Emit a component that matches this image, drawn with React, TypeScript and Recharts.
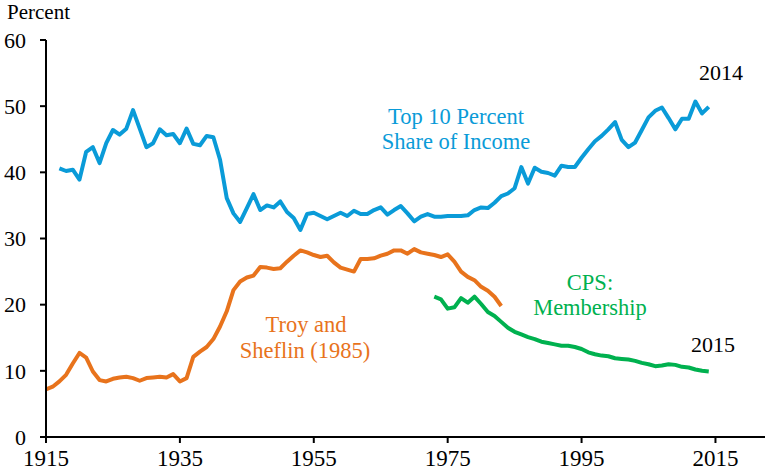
import React from 'react';
import { LineChart, Line, XAxis, YAxis, Customized } from 'recharts';

const FONT = "'Liberation Serif', 'Times New Roman', serif";
const BLUE = '#0a9bd8';
const ORANGE = '#e8731c';
const GREEN = '#00b14f';

// Top 10 percent share of income, 1917-2014
const top10Start = 1917;
const top10Share = [
  40.6, 40.2, 40.4, 38.9, 43.1, 43.8, 41.4, 44.4, 46.4, 45.7,
  46.6, 49.4, 46.6, 43.8, 44.4, 46.5, 45.6, 45.8, 44.4, 46.6,
  44.3, 44.1, 45.5, 45.3, 41.9, 36.1, 33.8, 32.5, 34.6, 36.7,
  34.3, 35.0, 34.7, 35.6, 34.0, 33.1, 31.3, 33.7, 33.9, 33.4,
  32.9, 33.4, 33.9, 33.4, 34.2, 33.7, 33.7, 34.3, 34.7, 33.6,
  34.3, 34.9, 33.8, 32.6, 33.3, 33.7, 33.3, 33.3, 33.4, 33.4,
  33.4, 33.5, 34.3, 34.7, 34.6, 35.4, 36.4, 36.8, 37.6, 40.8,
  38.3, 40.7, 40.1, 39.9, 39.5, 41.0, 40.8, 40.8, 42.2, 43.5,
  44.7, 45.5, 46.5, 47.6, 44.9, 43.8, 44.5, 46.4, 48.3, 49.3,
  49.8, 48.2, 46.5, 48.1, 48.1, 50.7, 48.9, 49.9,
];

// Troy and Sheflin (1985) union density, 1915-1983
const troyStart = 1915;
const troySheflin = [
  7.2, 7.6, 8.4, 9.4, 11.1, 12.7, 12.0, 9.9, 8.6, 8.4,
  8.8, 9.0, 9.1, 8.9, 8.5, 8.9, 9.0, 9.1, 9.0, 9.5,
  8.4, 8.9, 12.1, 12.9, 13.6, 14.8, 16.7, 19.0, 22.2, 23.5,
  24.1, 24.4, 25.7, 25.6, 25.4, 25.5, 26.5, 27.4, 28.2, 27.9,
  27.5, 27.2, 27.4, 26.4, 25.6, 25.3, 25.0, 26.9, 26.9, 27.0,
  27.4, 27.7, 28.2, 28.2, 27.7, 28.4, 27.9, 27.7, 27.5, 27.2,
  27.6, 26.5, 25.0, 24.2, 23.7, 22.7, 22.1, 21.2, 19.8,
];

// CPS membership, 1973-2014
const cpsStart = 1973;
const cpsMembership = [
  21.2, 20.8, 19.4, 19.6, 21.0, 20.3, 21.2, 20.1, 18.9, 18.3,
  17.4, 16.5, 15.9, 15.5, 15.1, 14.8, 14.4, 14.2, 14.0, 13.8,
  13.8, 13.6, 13.3, 12.8, 12.5, 12.3, 12.2, 11.9, 11.8, 11.7,
  11.5, 11.2, 11.0, 10.7, 10.8, 11.0, 10.9, 10.6, 10.5, 10.2,
  10.0, 9.9,
];

const xTicks = [1915, 1935, 1955, 1975, 1995, 2015];
const yTicks = [0, 10, 20, 30, 40, 50, 60];

const buildData = () => {
  const rows: Record<number, any> = {};
  const put = (start: number, vals: number[], key: string) => {
    vals.forEach((v, i) => {
      const y = start + i;
      rows[y] = rows[y] || { year: y };
      rows[y][key] = v;
    });
  };
  put(troyStart, troySheflin, 'troy');
  put(top10Start, top10Share, 'top10');
  put(cpsStart, cpsMembership, 'cps');
  return Object.values(rows).sort((a: any, b: any) => a.year - b.year);
};

const data = buildData();

const Annotations = () => (
  <g fontFamily={FONT}>
    <text x={7} y={19} fontSize={21} fill="#000">Percent</text>
    <text x={456} y={124} fontSize={22.5} fill={BLUE} textAnchor="middle">Top 10 Percent</text>
    <text x={456} y={149} fontSize={22.5} fill={BLUE} textAnchor="middle">Share of Income</text>
    <text x={306} y={332} fontSize={22.5} fill={ORANGE} textAnchor="middle">Troy and</text>
    <text x={305} y={358} fontSize={22.5} fill={ORANGE} textAnchor="middle">Sheflin (1985)</text>
    <text x={590} y={290} fontSize={22.5} fill={GREEN} textAnchor="middle">CPS:</text>
    <text x={590} y={315} fontSize={22.5} fill={GREEN} textAnchor="middle">Membership</text>
    <text x={721} y={80} fontSize={22} fill="#000" textAnchor="middle">2014</text>
    <text x={713} y={352} fontSize={22} fill="#000" textAnchor="middle">2015</text>
  </g>
);

export default function App() {
  return (
    <div style={{ position: 'absolute', left: 0, top: 0, background: '#fff' }}>
      <LineChart width={765} height={471} data={data} margin={{ top: 40, right: 0, bottom: 0, left: 0 }}>
        <XAxis
          dataKey="year"
          type="number"
          domain={[1915, 2022.4]}
          ticks={xTicks}
          allowDataOverflow
          height={34}
          stroke="#000"
          strokeWidth={2}
          tickSize={6}
          tickMargin={7}
          tick={{ fill: '#000', fontSize: 23, fontFamily: FONT }}
        />
        <YAxis
          domain={[0, 60]}
          ticks={yTicks}
          width={46}
          stroke="#000"
          strokeWidth={2}
          tickSize={6}
          tickMargin={14}
          tick={{ fill: '#000', fontSize: 22, fontFamily: FONT }}
        />
        <Line dataKey="top10" stroke={BLUE} strokeWidth={4} dot={false} isAnimationActive={false} strokeLinejoin="round" />
        <Line dataKey="troy" stroke={ORANGE} strokeWidth={4} dot={false} isAnimationActive={false} strokeLinejoin="round" />
        <Line dataKey="cps" stroke={GREEN} strokeWidth={4} dot={false} isAnimationActive={false} strokeLinejoin="round" />
        <Customized component={Annotations} />
      </LineChart>
    </div>
  );
}
